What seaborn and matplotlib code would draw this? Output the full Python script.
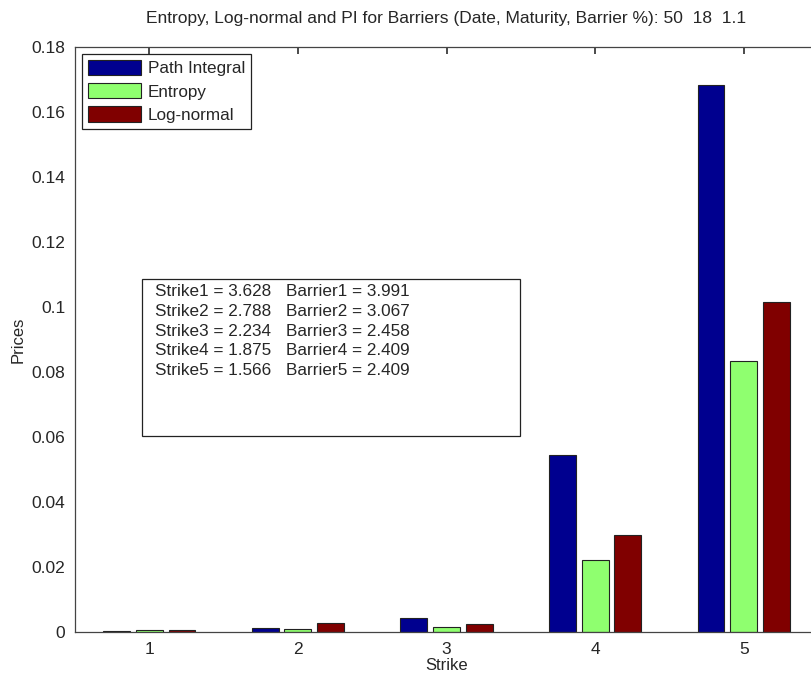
import numpy as np
import pandas as pd
import matplotlib
matplotlib.use("Agg")
import matplotlib.pyplot as plt
import seaborn as sns
from matplotlib.patches import Rectangle
from matplotlib.ticker import FormatStrFormatter

# Data
strikes_idx = ["1", "2", "3", "4", "5"]
path_integral = [0.0002, 0.0012, 0.0042, 0.0545, 0.1682]
entropy = [0.0007, 0.0010, 0.0015, 0.0222, 0.0834]
log_normal = [0.0006, 0.0028, 0.0026, 0.0298, 0.1015]
strike_vals = [3.628, 2.788, 2.234, 1.875, 1.566]
barrier_vals = [3.991, 3.067, 2.458, 2.409, 2.409]

series = ["Path Integral", "Entropy", "Log-normal"]
colors = ["#00008F", "#8FFF6F", "#800000"]

df = pd.DataFrame({
    "Strike": strikes_idx * 3,
    "Prices": path_integral + entropy + log_normal,
    "Method": [s for s in series for _ in strikes_idx],
})

sns.set_theme(style="white")
plt.rcParams["font.family"] = ["Liberation Sans", "DejaVu Sans"]

fig = plt.figure(figsize=(8.11, 6.77), dpi=100)
ax = fig.add_axes([75 / 811, 45 / 677, 743 / 811, 585 / 677])

sns.barplot(data=df, x="Strike", y="Prices", hue="Method", palette=colors,
            width=0.66, gap=0.18, edgecolor="#222222", linewidth=0.8,
            saturation=1, ax=ax)

ax.set_xlim(-0.5, 4.5)
ax.set_ylim(0, 0.18)
ax.set_yticks(np.arange(0, 0.181, 0.02))
ax.yaxis.set_major_formatter(FormatStrFormatter("%g"))
ax.tick_params(direction="in", length=5, top=True, right=True,
               labelsize=12.5, color="#333333", pad=7)
for s in ax.spines.values():
    s.set_color("#444444")
    s.set_linewidth(0.9)

ax.set_xlabel("Strike", fontsize=12, labelpad=1)
ax.set_ylabel("Prices", fontsize=12, labelpad=4)
ax.set_title("Entropy, Log-normal and PI for Barriers (Date, Maturity, Barrier %): 50  18  1.1",
             fontsize=12.5, pad=17)

leg = ax.legend(loc="upper left", title=None, fancybox=False, framealpha=1,
                edgecolor="#222222", fontsize=12.3, handlelength=3.1,
                handleheight=1.0, borderaxespad=0.4, labelspacing=0.4,
                handletextpad=0.4, borderpad=0.35)
leg.get_frame().set_linewidth(0.9)

# info box
ax.add_patch(Rectangle((0.090, 0.335), 0.509, 0.268, transform=ax.transAxes,
                       fill=False, edgecolor="#222222", linewidth=0.9))
left_txt = "\n".join(f"Strike{i + 1} = {v:.3f}" for i, v in enumerate(strike_vals))
right_txt = "\n".join(f"Barrier{i + 1} = {v:.3f}" for i, v in enumerate(barrier_vals))
ax.text(0.108, 0.595, left_txt, transform=ax.transAxes, va="top", ha="left",
        fontsize=12.3, linespacing=1.4)
ax.text(0.284, 0.595, right_txt, transform=ax.transAxes, va="top", ha="left",
        fontsize=12.3, linespacing=1.4)

fig.savefig("out.png", dpi=100)
